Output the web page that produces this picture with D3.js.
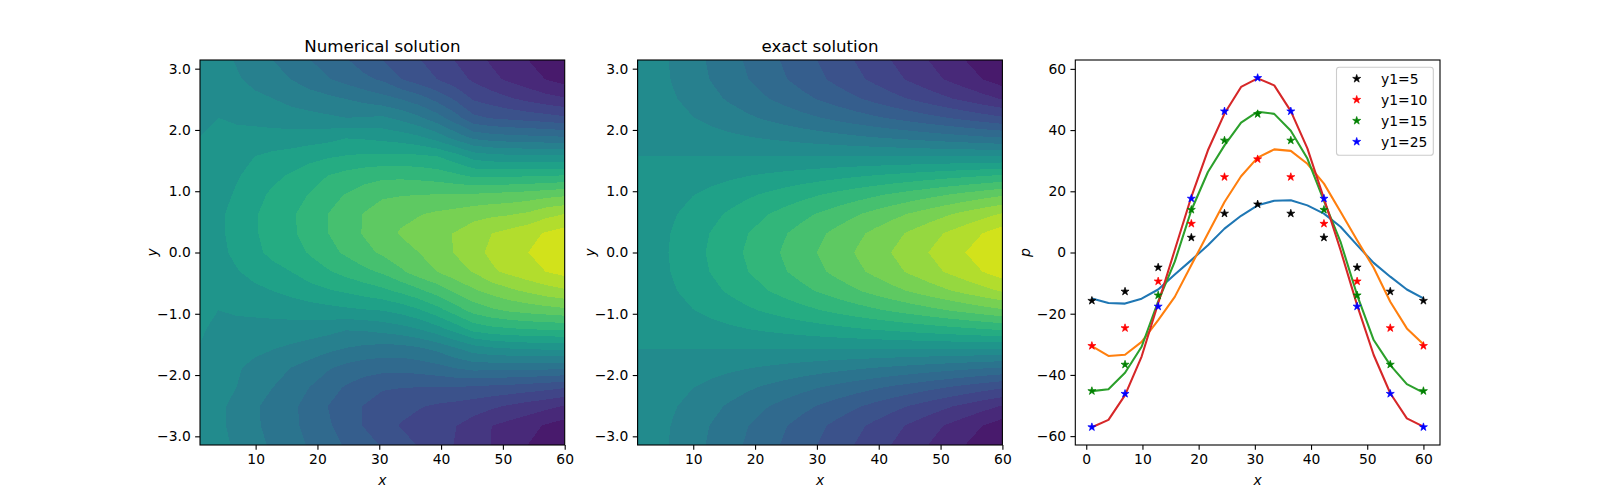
<!DOCTYPE html>
<html><head><meta charset="utf-8">
<script src="https://cdn.jsdelivr.net/npm/d3@7"></script>
<style>
html,body{margin:0;padding:0;background:#fff}
svg{display:block}
text{font-family:"DejaVu Sans",sans-serif;fill:#000}
</style></head><body><svg id="c" width="1600" height="500"></svg>
<script>
const gridX=[1,3.95,6.9,9.85,12.8,15.75,18.7,21.65,24.6,27.55,30.5,33.45,36.4,39.35,42.3,45.25,48.2,51.15,54.1,57.05,60];
const gridY=[-3.1416,-2.8274,-2.5133,-2.1991,-1.885,-1.5708,-1.2566,-0.9425,-0.6283,-0.3142,0,0.3142,0.6283,0.9425,1.2566,1.5708,1.885,2.1991,2.5133,2.8274,3.1416];
const levels=[-60,-54,-48,-42,-36,-30,-24,-18,-12,-6,0,6,12,18,24,30,36,42,48,54,60];
const numericalRows=[
[-1,-4,-7,-10,-13,-15,-18.7,-21.6,-24.6,-27.5,-30.6,-33.5,-36.4,-39.4,-42.3,-45.3,-48.2,-51.2,-54.1,-57.1,-59],
[-0.95,-4.5,-8,-11,-14,-16.5,-19.8,-23,-27,-30.3,-33.8,-36.3,-38.5,-40.3,-41.8,-44.7,-48,-50,-52,-54.7,-56.8],
[-0.81,-4.5,-8,-11.2,-14.2,-16.7,-20.2,-24,-27,-30.3,-33.4,-34.5,-35.5,-37,-38,-39.3,-41,-43,-44.8,-46.6,-48.5],
[-0.6,-3,-6,-9,-12,-15.1,-18,-21.4,-24.6,-27.2,-29.2,-29.8,-30,-30,-30.2,-30.8,-31.5,-32,-33,-34,-35.5],
[-0.3,-2.5,-5.2,-7.8,-10,-12.1,-14.5,-17.3,-19.8,-21.3,-22.1,-22.2,-21.4,-20,-17.8,-16,-16.2,-16.3,-16.4,-16.6,-17],
[-0.1,-1.5,-3,-4.5,-5.8,-7.2,-8.7,-10.6,-12.3,-13.6,-14.5,-14.5,-13,-10.6,-6.8,-3,-1.2,-0.2,0.4,0.8,0.9],
[0.3,-0.6,-1.2,-1.7,-2.1,-2.5,-3.1,-4,-5.7,-5.3,-4.1,-2.6,-0.2,3.4,8.3,13.8,16,17,17.8,18.2,18.6],
[0.5,0,0.5,1,1.7,2.4,3.2,4,4.8,5.6,6.2,8.2,11.3,15.7,21,26.3,29,31,32.3,33.4,34.5],
[0.8,2,3.2,4.6,6,7.8,9.6,11.3,12.8,14.6,16.5,19.2,22.6,26.6,31,35,38,40.7,43,45.4,47],
[0.95,3.5,5.5,8,10,12,15,17.3,20,22.5,24.9,29,33,36,39.4,42.4,47,49.5,52,54.1,56],
[1,4.2,7.5,10.6,13.6,15.4,18.5,22,25,28.2,31,33.6,36,39.5,42.4,46,49.3,51.5,54,56.9,58.5],
[0.95,4.7,8.2,11.4,14.4,16.9,20.4,23.9,27.3,30.5,33.7,36.5,38.5,40.5,42.3,45.3,48,50,52.2,54.6,56.6],
[0.8,4.7,8.2,11.4,14.5,17.1,20.5,24,27.2,30.3,33.2,34.6,35.6,37,38.2,39.8,40.8,41.5,43,46.2,48],
[0.6,3.5,6.8,10,13.2,15.4,18.3,22,24.3,26.8,29,29.6,30,30.2,30.4,30.7,31.4,32,32.8,34,35],
[0.4,3,5.4,8,10.5,12.7,15.4,18,20,21.5,22.5,22.6,22,21,19.2,16.9,16.8,17,17.3,17.6,18.2],
[0.15,1.5,3.6,6,7.5,8.4,10,11.3,12.3,13,13.3,13.5,13,12,8.5,3.5,2,1.4,1,0.8,0.8],
[0,0.6,1.1,1.5,2,2.4,3,3.8,5.5,5,4,2.8,0.8,-3,-8.5,-13.9,-15.5,-16.3,-16.8,-17.2,-17.8],
[-0.3,0,-0.6,-1.2,-2.3,-3.4,-4.2,-5,-6,-5.7,-5,-7.6,-11,-15.5,-21.5,-28.6,-30.5,-31.5,-32.5,-33.5,-35],
[-0.6,-2,-3.3,-4.7,-6,-7.9,-9.2,-10.6,-12.2,-14,-16.1,-18.3,-21.5,-26,-31,-36.8,-39,-41.5,-43.8,-46,-47.5],
[-0.95,-3,-5.2,-7.7,-10,-12.1,-15,-17.5,-20,-22.7,-24.8,-29.8,-33,-36,-39.3,-43,-46.5,-49.2,-51.7,-54.2,-56.5],
[-1,-3.8,-6.5,-9.3,-12,-15,-17.8,-20.5,-23.5,-26.8,-30,-32.5,-35.6,-38.9,-42.2,-45.8,-48.8,-51.3,-54,-56.9,-59]];
const exactRows=[
[-1,-3.95,-6.9,-9.85,-12.8,-15.75,-18.7,-21.65,-24.6,-27.55,-30.5,-33.45,-36.4,-39.35,-42.3,-45.25,-48.2,-51.15,-54.1,-57.05,-60],
[-0.95,-3.76,-6.56,-9.37,-12.17,-14.98,-17.78,-20.59,-23.4,-26.2,-29,-31.81,-34.62,-37.42,-40.23,-43.03,-45.84,-48.65,-51.45,-54.26,-57.06],
[-0.81,-3.2,-5.58,-7.97,-10.36,-12.74,-15.13,-17.52,-19.9,-22.29,-24.68,-27.06,-29.45,-31.84,-34.22,-36.61,-38.99,-41.38,-43.77,-46.15,-48.54],
[-0.59,-2.32,-4.06,-5.79,-7.52,-9.26,-10.99,-12.73,-14.46,-16.19,-17.93,-19.66,-21.4,-23.13,-24.86,-26.6,-28.33,-30.06,-31.8,-33.53,-35.27],
[-0.31,-1.22,-2.13,-3.04,-3.96,-4.87,-5.78,-6.69,-7.6,-8.51,-9.42,-10.34,-11.25,-12.16,-13.07,-13.98,-14.89,-15.81,-16.72,-17.63,-18.54],
[0,0,0,0,0,0,0,0,0,0,0,0,0,0,0,0,0,0,0,0,0],
[0.31,1.22,2.13,3.04,3.96,4.87,5.78,6.69,7.6,8.51,9.42,10.34,11.25,12.16,13.07,13.98,14.89,15.81,16.72,17.63,18.54],
[0.59,2.32,4.06,5.79,7.52,9.26,10.99,12.73,14.46,16.19,17.93,19.66,21.4,23.13,24.86,26.6,28.33,30.06,31.8,33.53,35.27],
[0.81,3.2,5.58,7.97,10.36,12.74,15.13,17.52,19.9,22.29,24.68,27.06,29.45,31.84,34.22,36.61,38.99,41.38,43.77,46.15,48.54],
[0.95,3.76,6.56,9.37,12.17,14.98,17.78,20.59,23.4,26.2,29,31.81,34.62,37.42,40.23,43.03,45.84,48.65,51.45,54.26,57.06],
[1,3.95,6.9,9.85,12.8,15.75,18.7,21.65,24.6,27.55,30.5,33.45,36.4,39.35,42.3,45.25,48.2,51.15,54.1,57.05,60],
[0.95,3.76,6.56,9.37,12.17,14.98,17.78,20.59,23.4,26.2,29,31.81,34.62,37.42,40.23,43.03,45.84,48.65,51.45,54.26,57.06],
[0.81,3.2,5.58,7.97,10.36,12.74,15.13,17.52,19.9,22.29,24.68,27.06,29.45,31.84,34.22,36.61,38.99,41.38,43.77,46.15,48.54],
[0.59,2.32,4.06,5.79,7.52,9.26,10.99,12.73,14.46,16.19,17.93,19.66,21.4,23.13,24.86,26.6,28.33,30.06,31.8,33.53,35.27],
[0.31,1.22,2.13,3.04,3.96,4.87,5.78,6.69,7.6,8.51,9.42,10.34,11.25,12.16,13.07,13.98,14.89,15.81,16.72,17.63,18.54],
[0,0,0,0,0,0,0,0,0,0,0,0,0,0,0,0,0,0,0,0,0],
[-0.31,-1.22,-2.13,-3.04,-3.96,-4.87,-5.78,-6.69,-7.6,-8.51,-9.42,-10.34,-11.25,-12.16,-13.07,-13.98,-14.89,-15.81,-16.72,-17.63,-18.54],
[-0.59,-2.32,-4.06,-5.79,-7.52,-9.26,-10.99,-12.73,-14.46,-16.19,-17.93,-19.66,-21.4,-23.13,-24.86,-26.6,-28.33,-30.06,-31.8,-33.53,-35.27],
[-0.81,-3.2,-5.58,-7.97,-10.36,-12.74,-15.13,-17.52,-19.9,-22.29,-24.68,-27.06,-29.45,-31.84,-34.22,-36.61,-38.99,-41.38,-43.77,-46.15,-48.54],
[-0.95,-3.76,-6.56,-9.37,-12.17,-14.98,-17.78,-20.59,-23.4,-26.2,-29,-31.81,-34.62,-37.42,-40.23,-43.03,-45.84,-48.65,-51.45,-54.26,-57.06],
[-1,-3.95,-6.9,-9.85,-12.8,-15.75,-18.7,-21.65,-24.6,-27.55,-30.5,-33.45,-36.4,-39.35,-42.3,-45.25,-48.2,-51.15,-54.1,-57.05,-60]];
const linePositions=gridX;
const lineBlue=[-15,-16.5,-16.7,-15.1,-12.1,-7.2,-2.5,2.4,7.8,12,15.4,16.9,17.1,15.4,12.7,8.4,2.4,-3.4,-7.9,-12.1,-15];
const lineOrange=[-30.6,-33.8,-33.4,-29.2,-22.1,-14.5,-4.1,6.2,16.5,24.9,31,33.7,33.2,29,22.5,13.3,4,-5,-16.1,-24.8,-30];
const lineGreen=[-45.3,-44.7,-39.3,-30.8,-16,-3,13.8,26.3,35,42.4,46,45.3,39.8,30.7,16.9,3.5,-13.9,-28.6,-36.8,-43,-45.8];
const lineRed=[-57.1,-54.7,-46.6,-34,-16.6,0.8,18.2,33.4,45.4,54.1,56.9,54.6,46.2,34,17.6,0.8,-17.2,-33.5,-46,-54.2,-56.9];
const starPositions=[1,6.9,12.8,18.7,24.6,30.5,36.4,42.3,48.2,54.1,60];
const starY5=[-15.75,-12.74,-4.87,4.87,12.74,15.75,12.74,4.87,-4.87,-12.74,-15.75];
const starY10=[-30.5,-24.68,-9.42,9.42,24.68,30.5,24.68,9.42,-9.42,-24.68,-30.5];
const starY15=[-45.25,-36.61,-13.98,13.98,36.61,45.25,36.61,13.98,-13.98,-36.61,-45.25];
const starY25=[-57.05,-46.15,-17.63,17.63,46.15,57.05,46.15,17.63,-17.63,-46.15,-57.05];
const legendLabels=["y1=5","y1=10","y1=15","y1=25"];
const starColors=["black","red","green","blue"];
const lineColors=["#1f77b4","#ff7f0e","#2ca02c","#d62728"];

const svg=d3.select("#c");
const top_=60,bot=445;
const panels=[[200,564.7],[637.6,1002.4],[1075.3,1440]];
const FS=13.89;
function styleAxis(g){
  g.selectAll("text").attr("font-size",FS).attr("fill","#000");
  g.selectAll("line").attr("stroke","#000").attr("stroke-width",1.1);
  g.select(".domain").attr("stroke","none");
  g.attr("shape-rendering","auto");
}
function frame(x0,x1,xS,yS,xt,yt,xlab,ylab,ylabX){
  svg.append("g").attr("transform",`translate(0,${bot})`)
    .call(d3.axisBottom(xS).tickValues(xt).tickSize(4.86).tickPadding(4.4)).call(styleAxis);
  svg.append("g").attr("transform",`translate(${x0},0)`)
    .call(d3.axisLeft(yS).tickValues(yt).tickSize(4.86).tickPadding(4.4)).call(styleAxis);
  svg.append("rect").attr("x",x0).attr("y",top_).attr("width",x1-x0).attr("height",bot-top_)
    .attr("fill","none").attr("stroke","#000").attr("stroke-width",1.1);
  svg.append("text").attr("x",(x0+x1)/2).attr("y",485).attr("text-anchor","middle")
    .attr("font-size",FS).attr("font-style","italic").text(xlab);
  svg.append("text").attr("transform",`translate(${ylabX},${(top_+bot)/2}) rotate(-90)`)
    .attr("text-anchor","middle").attr("font-size",FS).attr("font-style","italic").text(ylab);
}
function contourPanel(idx,rows,title,ylabX){
  const [x0,x1]=panels[idx];
  const xS=d3.scaleLinear().domain([1,60]).range([x0,x1]);
  const yS=d3.scaleLinear().domain([-Math.PI,Math.PI]).range([bot,top_]);
  const uS=d3.scaleLinear().domain([0,gridX.length-1]).range([xS(gridX[0]),xS(gridX[gridX.length-1])]);
  const vS=d3.scaleLinear().domain([0,gridY.length-1]).range([yS(gridY[0]),yS(gridY[gridY.length-1])]);
  const flat=rows.flat();
  const cid="clip"+idx;
  svg.append("clipPath").attr("id",cid).append("rect").attr("x",x0).attr("y",top_).attr("width",x1-x0).attr("height",bot-top_);
  const path=d3.geoPath(d3.geoTransform({point(a,b){this.stream.point(uS(a-.5),vS(b-.5));}}));
  const contours=d3.contours().size([gridX.length,gridY.length]).thresholds(levels.slice(0,-1));
  const g=svg.append("g").attr("clip-path",`url(#${cid})`).attr("shape-rendering","crispEdges");
  const cs=contours(flat);
  g.selectAll("path").data(cs).join("path")
    .attr("d",path)
    .attr("fill",d=>d3.interpolateViridis((d.value+3+66)/132));
  frame(x0,x1,xS,yS,[10,20,30,40,50,60],[-3,-2,-1,0,1,2,3],"x","y",ylabX);
  svg.append("text").attr("x",(x0+x1)/2).attr("y",52).attr("text-anchor","middle").attr("font-size",16.67).text(title);
}
contourPanel(0,numericalRows,"Numerical solution",157);
contourPanel(1,exactRows,"exact solution",595);

// right panel
const [rx0,rx1]=panels[2];
const rx=d3.scaleLinear().domain([-1.95,62.95]).range([rx0,rx1]);
const ry=d3.scaleLinear().domain([-62.9,62.9]).range([bot,top_]);
const clip=svg.append("clipPath").attr("id","clipR").append("rect").attr("x",rx0).attr("y",top_).attr("width",rx1-rx0).attr("height",bot-top_);
const pg=svg.append("g").attr("clip-path","url(#clipR)");
const lg=d3.line().x((d,i)=>rx(linePositions[i])).y(d=>ry(d));
[lineBlue,lineOrange,lineGreen,lineRed].forEach((s,k)=>{
  pg.append("path").attr("d",lg(s)).attr("fill","none").attr("stroke",lineColors[k]).attr("stroke-width",2.08).attr("stroke-linejoin","round");
});
const star=d3.symbol().type(d3.symbolStar).size(20);
[starY5,starY10,starY15,starY25].forEach((s,k)=>{
  pg.selectAll(null).data(s).join("path").attr("d",star)
    .attr("transform",(d,i)=>`translate(${rx(starPositions[i])},${ry(d)})`)
    .attr("fill",starColors[k]).attr("stroke",starColors[k]).attr("stroke-width",0.7);
});
frame(rx0,rx1,rx,ry,[0,10,20,30,40,50,60],[-60,-40,-20,0,20,40,60],"x","p",1030);

// legend
const lx=1336.5,ly=67.2,lw=96.8,lh=88;
svg.append("rect").attr("x",lx).attr("y",ly).attr("width",lw).attr("height",lh).attr("rx",2.8)
  .attr("fill","#fff").attr("fill-opacity",.8).attr("stroke","#ccc").attr("stroke-width",1.1);
legendLabels.forEach((t,k)=>{
  const y=ly+11.5+k*21;
  svg.append("path").attr("d",star).attr("transform",`translate(1356.7,${y})`)
    .attr("fill",starColors[k]).attr("stroke",starColors[k]).attr("stroke-width",0.7);
  svg.append("text").attr("x",1381).attr("y",y+4.9).attr("font-size",FS).text(t);
});
</script></body></html>
